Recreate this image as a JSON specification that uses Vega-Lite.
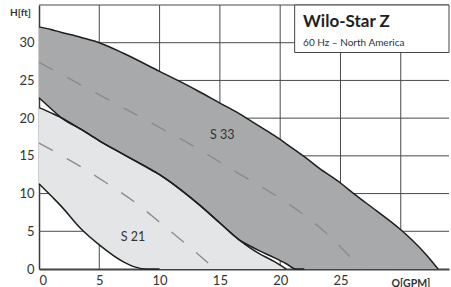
{
  "$schema": "https://vega.github.io/schema/vega-lite/v6.json",
  "width": 410,
  "height": 264,
  "autosize": "none",
  "padding": {"left": 39, "top": 5, "right": 2, "bottom": 18},
  "background": "white",
  "config": {"view": {"stroke": null}, "font": "Lato"},
  "datasets": {
    "gridlines": [
      {"seg": "v5", "q": 5, "h": 0}, {"seg": "v5", "q": 5, "h": 35},
      {"seg": "v10", "q": 10, "h": 0}, {"seg": "v10", "q": 10, "h": 35},
      {"seg": "v15", "q": 15, "h": 0}, {"seg": "v15", "q": 15, "h": 35},
      {"seg": "v20", "q": 20, "h": 0}, {"seg": "v20", "q": 20, "h": 35},
      {"seg": "v25", "q": 25, "h": 0}, {"seg": "v25", "q": 25, "h": 28.7},
      {"seg": "v30", "q": 30, "h": 0}, {"seg": "v30", "q": 30, "h": 28.7},
      {"seg": "h5", "q": 0, "h": 5}, {"seg": "h5", "q": 34, "h": 5},
      {"seg": "h10", "q": 0, "h": 10}, {"seg": "h10", "q": 34, "h": 10},
      {"seg": "h15", "q": 0, "h": 15}, {"seg": "h15", "q": 34, "h": 15},
      {"seg": "h20", "q": 0, "h": 20}, {"seg": "h20", "q": 34, "h": 20},
      {"seg": "h25", "q": 0, "h": 25}, {"seg": "h25", "q": 34, "h": 25},
      {"seg": "h30", "q": 0, "h": 30}, {"seg": "h30", "q": 21.2, "h": 30},
      {"seg": "h35", "q": 0, "h": 35}, {"seg": "h35", "q": 34, "h": 35}
    ],
    "regions": [
      {"region": "S33", "q": 0, "h": 32.1, "lo": 22.7},
      {"region": "S33", "q": 1, "h": 31.75, "lo": 21.25},
      {"region": "S33", "q": 1.8, "h": 31.4, "lo": 20.1},
      {"region": "S33", "q": 3.5, "h": 30.7, "lo": 18.5},
      {"region": "S33", "q": 5, "h": 30.0, "lo": 17.0},
      {"region": "S33", "q": 7, "h": 28.6, "lo": 15.2},
      {"region": "S33", "q": 10, "h": 26.2, "lo": 12.5},
      {"region": "S33", "q": 12, "h": 24.6, "lo": 10.2},
      {"region": "S33", "q": 13.3, "h": 23.5, "lo": 8.5},
      {"region": "S33", "q": 15, "h": 22.0, "lo": 6.1},
      {"region": "S33", "q": 16.6, "h": 20.6, "lo": 3.86},
      {"region": "S33", "q": 17.5, "h": 19.7, "lo": 3.05},
      {"region": "S33", "q": 18.3, "h": 18.9, "lo": 2.4},
      {"region": "S33", "q": 19.5, "h": 17.7, "lo": 1.5},
      {"region": "S33", "q": 20.5, "h": 16.6, "lo": 0.7},
      {"region": "S33", "q": 21.3, "h": 15.7, "lo": 0},
      {"region": "S33", "q": 22, "h": 14.9, "lo": 0},
      {"region": "S33", "q": 23.2, "h": 13.4, "lo": 0},
      {"region": "S33", "q": 25, "h": 11.4, "lo": 0},
      {"region": "S33", "q": 26.1, "h": 10.0, "lo": 0},
      {"region": "S33", "q": 28, "h": 7.7, "lo": 0},
      {"region": "S33", "q": 30, "h": 5.2, "lo": 0},
      {"region": "S33", "q": 31, "h": 3.75, "lo": 0},
      {"region": "S33", "q": 32, "h": 2.1, "lo": 0},
      {"region": "S33", "q": 33.1, "h": 0, "lo": 0},
      {"region": "S21", "q": 0, "h": 21.4, "lo": 11.3},
      {"region": "S21", "q": 1, "h": 20.7, "lo": 9.7},
      {"region": "S21", "q": 1.8, "h": 20.1, "lo": 8.4},
      {"region": "S21", "q": 3.5, "h": 18.5, "lo": 5.3},
      {"region": "S21", "q": 5, "h": 17.0, "lo": 3.2},
      {"region": "S21", "q": 7, "h": 15.2, "lo": 0.95},
      {"region": "S21", "q": 8, "h": 14.3, "lo": 0.25},
      {"region": "S21", "q": 8.9, "h": 13.5, "lo": 0},
      {"region": "S21", "q": 10, "h": 12.5, "lo": 0},
      {"region": "S21", "q": 12, "h": 10.2, "lo": 0},
      {"region": "S21", "q": 13.3, "h": 8.5, "lo": 0},
      {"region": "S21", "q": 15, "h": 6.1, "lo": 0},
      {"region": "S21", "q": 16.6, "h": 3.86, "lo": 0},
      {"region": "S21", "q": 17.5, "h": 2.8, "lo": 0},
      {"region": "S21", "q": 18.3, "h": 2.0, "lo": 0},
      {"region": "S21", "q": 19.1, "h": 1.35, "lo": 0},
      {"region": "S21", "q": 19.5, "h": 1.0, "lo": 0},
      {"region": "S21", "q": 20.2, "h": 0.3, "lo": 0},
      {"region": "S21", "q": 20.5, "h": 0, "lo": 0}
    ],
    "curves": [
      {"curve": "S33 max", "q": 0, "h": 32.1},
      {"curve": "S33 max", "q": 1, "h": 31.75},
      {"curve": "S33 max", "q": 1.8, "h": 31.4},
      {"curve": "S33 max", "q": 3.5, "h": 30.7},
      {"curve": "S33 max", "q": 5, "h": 30.0},
      {"curve": "S33 max", "q": 7, "h": 28.6},
      {"curve": "S33 max", "q": 10, "h": 26.2},
      {"curve": "S33 max", "q": 12, "h": 24.6},
      {"curve": "S33 max", "q": 13.3, "h": 23.5},
      {"curve": "S33 max", "q": 15, "h": 22.0},
      {"curve": "S33 max", "q": 16.6, "h": 20.6},
      {"curve": "S33 max", "q": 17.5, "h": 19.7},
      {"curve": "S33 max", "q": 18.3, "h": 18.9},
      {"curve": "S33 max", "q": 19.5, "h": 17.7},
      {"curve": "S33 max", "q": 20.5, "h": 16.6},
      {"curve": "S33 max", "q": 21.3, "h": 15.7},
      {"curve": "S33 max", "q": 22, "h": 14.9},
      {"curve": "S33 max", "q": 23.2, "h": 13.4},
      {"curve": "S33 max", "q": 25, "h": 11.4},
      {"curve": "S33 max", "q": 26.1, "h": 10.0},
      {"curve": "S33 max", "q": 28, "h": 7.7},
      {"curve": "S33 max", "q": 30, "h": 5.2},
      {"curve": "S33 max", "q": 31, "h": 3.75},
      {"curve": "S33 max", "q": 32, "h": 2.1},
      {"curve": "S33 max", "q": 33.1, "h": 0},
      {"curve": "S33 min", "q": 0, "h": 22.7},
      {"curve": "S33 min", "q": 1, "h": 21.25},
      {"curve": "S33 min", "q": 1.8, "h": 20.1},
      {"curve": "S33 min", "q": 3.5, "h": 18.5},
      {"curve": "S33 min", "q": 5, "h": 17.0},
      {"curve": "S33 min", "q": 7, "h": 15.2},
      {"curve": "S33 min", "q": 10, "h": 12.5},
      {"curve": "S33 min", "q": 12, "h": 10.2},
      {"curve": "S33 min", "q": 13.3, "h": 8.5},
      {"curve": "S33 min", "q": 15, "h": 6.1},
      {"curve": "S33 min", "q": 16.6, "h": 3.86},
      {"curve": "S33 min", "q": 17.5, "h": 3.05},
      {"curve": "S33 min", "q": 18.3, "h": 2.4},
      {"curve": "S33 min", "q": 19.5, "h": 1.5},
      {"curve": "S33 min", "q": 20.5, "h": 0.7},
      {"curve": "S33 min", "q": 21.3, "h": 0},
      {"curve": "S33 min", "q": 22, "h": 0},
      {"curve": "S21 max", "q": 0, "h": 21.4},
      {"curve": "S21 max", "q": 1, "h": 20.7},
      {"curve": "S21 max", "q": 1.8, "h": 20.1},
      {"curve": "S21 max", "q": 3.5, "h": 18.5},
      {"curve": "S21 max", "q": 5, "h": 17.0},
      {"curve": "S21 max", "q": 7, "h": 15.2},
      {"curve": "S21 max", "q": 8, "h": 14.3},
      {"curve": "S21 max", "q": 8.9, "h": 13.5},
      {"curve": "S21 max", "q": 10, "h": 12.5},
      {"curve": "S21 max", "q": 12, "h": 10.2},
      {"curve": "S21 max", "q": 13.3, "h": 8.5},
      {"curve": "S21 max", "q": 15, "h": 6.1},
      {"curve": "S21 max", "q": 16.6, "h": 3.86},
      {"curve": "S21 max", "q": 17.5, "h": 2.8},
      {"curve": "S21 max", "q": 18.3, "h": 2.0},
      {"curve": "S21 max", "q": 19.1, "h": 1.35},
      {"curve": "S21 max", "q": 19.5, "h": 1.0},
      {"curve": "S21 max", "q": 20.2, "h": 0.3},
      {"curve": "S21 max", "q": 20.5, "h": 0},
      {"curve": "S21 min", "q": 0, "h": 11.3},
      {"curve": "S21 min", "q": 1, "h": 9.7},
      {"curve": "S21 min", "q": 1.8, "h": 8.4},
      {"curve": "S21 min", "q": 3.5, "h": 5.3},
      {"curve": "S21 min", "q": 5, "h": 3.2},
      {"curve": "S21 min", "q": 7, "h": 0.95},
      {"curve": "S21 min", "q": 8, "h": 0.25},
      {"curve": "S21 min", "q": 8.9, "h": 0},
      {"curve": "S21 min", "q": 10, "h": 0}
    ],
    "dashed": [
      {"curve": "S33", "q": 0, "h": 27.4},
      {"curve": "S33", "q": 5, "h": 23.1},
      {"curve": "S33", "q": 10.3, "h": 18.5},
      {"curve": "S33", "q": 12.8, "h": 16.3},
      {"curve": "S33", "q": 16, "h": 13.2},
      {"curve": "S33", "q": 21.6, "h": 7.6},
      {"curve": "S33", "q": 24, "h": 4.5},
      {"curve": "S33", "q": 25.8, "h": 1.6},
      {"curve": "S33", "q": 26.7, "h": 0},
      {"curve": "S21", "q": 0, "h": 16.7},
      {"curve": "S21", "q": 3, "h": 14.0},
      {"curve": "S21", "q": 5.6, "h": 11.4},
      {"curve": "S21", "q": 8, "h": 8.8},
      {"curve": "S21", "q": 10.3, "h": 5.8},
      {"curve": "S21", "q": 12.5, "h": 2.9},
      {"curve": "S21", "q": 14.6, "h": 0}
    ]
  },
  "encoding": {
    "x": {"field": "q", "type": "quantitative",
      "scale": {"domain": [0, 34], "nice": false, "zero": false},
      "axis": {"values": [0, 5, 10, 15, 20, 25], "grid": false, "tickColor": "transparent",
        "labelFont": "Lato", "labelFontSize": 13, "labelColor": "#333333",
        "domainWidth": 2, "domainColor": "#444444", "labelPadding": 0,
        "title": "Q[GPM]", "titleFont": "Lato", "titleFontSize": 10.5, "titleFontWeight": "bold", "titleColor": "#333333",
        "titleAnchor": "start", "titleX": 352, "titleY": 14, "titleBaseline": "middle", "titleAlign": "left"}},
    "y": {"field": "h", "type": "quantitative",
      "scale": {"domain": [0, 35], "nice": false, "zero": false},
      "axis": {"values": [0, 5, 10, 15, 20, 25, 30], "grid": false, "tickColor": "transparent",
        "labelFont": "Lato", "labelFontSize": 13, "labelColor": "#333333",
        "domainWidth": 1.5, "domainColor": "#3a3a3a", "labelPadding": 0,
        "title": "H[ft]", "titleFont": "Lato", "titleAngle": 0, "titleFontSize": 10, "titleFontWeight": "bold", "titleColor": "#333333",
        "titleX": -19, "titleY": 7, "titleAlign": "center", "titleBaseline": "middle"}}
  },
  "layer": [
    {
      "data": {"name": "gridlines"},
      "mark": {"type": "line", "interpolate": "linear", "color": "#4a4a4a", "strokeWidth": 1},
      "encoding": {"detail": {"field": "seg"}}
    },
    {
      "data": {"name": "regions"},
      "mark": {"type": "area", "interpolate": "monotone", "opacity": 1},
      "encoding": {
        "y2": {"field": "lo"},
        "color": {"field": "region", "type": "nominal",
          "scale": {"domain": ["S33", "S21"], "range": ["#a8a9ab", "#e4e5e7"]}, "legend": null}
      }
    },
    {
      "data": {"name": "dashed"},
      "mark": {"type": "line", "interpolate": "monotone", "color": "#8c8c8c", "strokeWidth": 1.4, "strokeDash": [16, 16]},
      "encoding": {"detail": {"field": "curve"}}
    },
    {
      "data": {"name": "curves"},
      "mark": {"type": "line", "interpolate": "monotone", "color": "#1e1e1e", "strokeWidth": 1.5},
      "encoding": {"detail": {"field": "curve"}}
    },
    {
      "data": {"values": [{"q": 21.2, "q2": 34, "h": 28.7, "h2": 35}]},
      "mark": {"type": "rect", "fill": "white", "stroke": "#444444", "strokeWidth": 1},
      "encoding": {"x2": {"field": "q2"}, "y2": {"field": "h2"}}
    },
    {
      "data": {"values": [{"label": "S 33", "q": 15.2, "h": 17.8}, {"label": "S 21", "q": 7.8, "h": 4.25}]},
      "mark": {"type": "text", "font": "Lato", "fontSize": 12.5, "color": "#333333", "align": "center", "baseline": "middle"},
      "encoding": {"text": {"field": "label"}}
    },
    {
      "data": {"values": [{"label": "Wilo-Star Z", "q": 21.9, "h": 32.7}]},
      "mark": {"type": "text", "font": "Lato", "fontSize": 17, "fontWeight": "bold", "color": "#222222", "align": "left", "baseline": "middle"},
      "encoding": {"text": {"field": "label"}}
    },
    {
      "data": {"values": [{"label": "60 Hz – North America", "q": 21.9, "h": 30.0}]},
      "mark": {"type": "text", "font": "Lato", "fontSize": 10, "color": "#333333", "align": "left", "baseline": "middle"},
      "encoding": {"text": {"field": "label"}}
    }
  ]
}
